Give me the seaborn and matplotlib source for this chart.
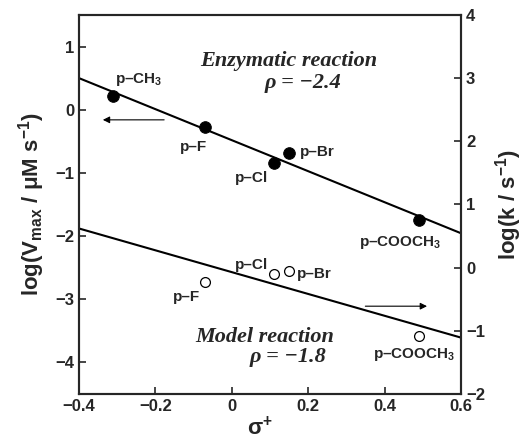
import numpy as np
import seaborn as sns
import matplotlib.pyplot as plt

# Hammett plot data (sigma+ vs log rate)
subst = ['p–CH$_3$', 'p–F', 'p–Cl', 'p–Br', 'p–COOCH$_3$']
sigma_enz = [-0.31, -0.07, 0.11, 0.15, 0.49]
log_vmax = [0.22, -0.27, -0.84, -0.68, -1.75]

subst_model = ['p–F', 'p–Cl', 'p–Br', 'p–COOCH$_3$']
sigma_model = [-0.07, 0.11, 0.15, 0.49]
log_k = [-0.23, -0.10, -0.05, -1.08]

sns.set_style("ticks")
plt.rcParams['font.family'] = ['Liberation Sans', 'DejaVu Sans']
plt.rcParams['font.weight'] = 'bold'
plt.rcParams['mathtext.fontset'] = 'custom'
plt.rcParams['mathtext.rm'] = 'Liberation Sans:bold'
plt.rcParams['mathtext.it'] = 'Liberation Sans:bold'
plt.rcParams['mathtext.bf'] = 'Liberation Sans:bold'
plt.rcParams['mathtext.default'] = 'rm'
plt.rcParams['axes.linewidth'] = 1.5
plt.rcParams['xtick.direction'] = 'in'
plt.rcParams['ytick.direction'] = 'in'

fig = plt.figure(figsize=(5.27, 4.41), dpi=100)
ax = fig.add_axes([0.150, 0.1066, 0.725, 0.8594])
ax2 = ax.twinx()

ax.set_xlim(-0.4, 0.6)
ax.set_ylim(-4.5, 1.5)
ax2.set_ylim(-2, 4)

# enzymatic reaction (left axis)
sns.regplot(x=sigma_enz, y=log_vmax, ax=ax, scatter=False, ci=None,
            truncate=False, color='black', line_kws=dict(lw=1.5))
sns.scatterplot(x=sigma_enz, y=log_vmax, ax=ax, color='black', s=70,
                edgecolor='black', zorder=5, legend=False)

# model reaction (right axis)
sns.regplot(x=sigma_model, y=log_k, ax=ax2, scatter=False, ci=None,
            truncate=False, color='black', line_kws=dict(lw=1.5))
sns.scatterplot(x=sigma_model, y=log_k, ax=ax2, facecolor='white', s=50,
                edgecolor='black', linewidth=0.9, zorder=5, legend=False)

ax.set_xlim(-0.4, 0.6)
ax.set_ylim(-4.5, 1.5)
ax2.set_ylim(-2, 4)

lab_fs = 11
enz_off = [((2, 16), 'left'), ((2, -20), 'right'), ((-6, -15), 'right'),
           ((11, 1), 'left'), ((-19, -22), 'center')]
for name, xv, yv, (off, ha) in zip(subst, sigma_enz, log_vmax, enz_off):
    ax.annotate(name, (xv, yv), xytext=off, textcoords='offset pixels',
                ha=ha, va='center', fontsize=lab_fs, fontweight='bold')

mod_off = [((-5, -15), 'right'), ((-6, 9), 'right'), ((8, -3), 'left'),
           ((-5, -19), 'center')]
for name, xv, yv, (off, ha) in zip(subst_model, sigma_model, log_k, mod_off):
    ax2.annotate(name, (xv, yv), xytext=off, textcoords='offset pixels',
                 ha=ha, va='center', fontsize=lab_fs, fontweight='bold')

# direction arrows
ax.annotate('', xy=(-0.345, -0.16), xytext=(-0.17, -0.16),
            arrowprops=dict(arrowstyle='-|>', color='black', lw=0.8,
                            mutation_scale=10))
ax2.annotate('', xy=(0.518, -0.61), xytext=(0.342, -0.61),
             arrowprops=dict(arrowstyle='-|>', color='black', lw=0.8,
                             mutation_scale=10))

serif = dict(family=['Liberation Serif', 'DejaVu Serif'], style='italic',
             fontweight='bold', fontsize=16, ha='center', va='center')
ax.text(0.149, 0.77, 'Enzymatic reaction', **serif)
ax.text(0.186, 0.42, 'ρ = −2.4', **serif)
ax.text(0.086, -3.60, 'Model reaction', **serif)
ax.text(0.147, -3.91, 'ρ = −1.8', **serif)

ax.set_xticks([-0.4, -0.2, 0, 0.2, 0.4, 0.6])
ax.set_xticklabels(['−0.4', '−0.2', '0', '0.2', '0.4', '0.6'])
ax.set_yticks([-4, -3, -2, -1, 0, 1])
ax.set_yticklabels(['−4', '−3', '−2', '−1', '0', '1'])
ax2.set_yticks([-2, -1, 0, 1, 2, 3, 4])
ax2.set_yticklabels(['−2', '−1', '0', '1', '2', '3', '4'])
for a in (ax, ax2):
    a.tick_params(labelsize=12, width=1.2, length=5)

ax.set_xlabel('σ$^{+}$', fontsize=16, fontweight='bold', labelpad=2)
ax.xaxis.set_label_coords(0.474, -0.06)
ax.set_ylabel('log(V$_{max}$ / μM s$^{-1}$)', fontsize=16, fontweight='bold',
              labelpad=6)
ax2.set_ylabel('log(k / s$^{-1}$)', fontsize=16, fontweight='bold',
               labelpad=6)

fig.savefig('out.png', dpi=100)
